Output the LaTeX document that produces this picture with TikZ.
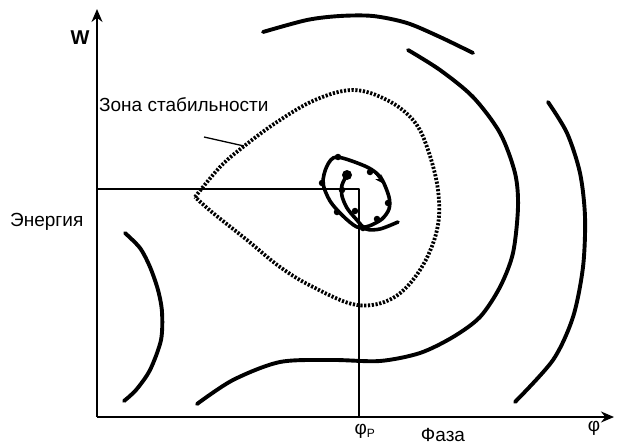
\documentclass[tikz,border=0pt]{standalone}
\usepackage{fontspec}
\setmainfont{Liberation Sans}
\usetikzlibrary{arrows.meta}

\begin{document}
\begin{tikzpicture}[x=1pt, y=-1pt, line join=round,
  axis/.style = {line width=1.9pt, -{Stealth[length=13pt,width=11pt]}},
  guide/.style = {line width=1.3pt},
  orbit/.style = {line width=3.9pt, line cap=round},
  zone/.style = {line width=3.8pt, dash pattern=on 2.2pt off 1.6pt},
  lbl/.style = {inner sep=0pt, font=\fontsize{19}{21}\selectfont},
  bead/.style = {fill, circle, inner sep=0pt, minimum size=6.5pt}]
\useasboundingbox (0,0) rectangle (617,444);
% axes
\coordinate (O) at (97,417);
\coordinate (Wtop) at (97,9);
\coordinate (Ptop) at (614,417);
\draw[axis] (O) -- (Wtop);
\draw[axis] (O) -- (Ptop);
% working point
\coordinate (E) at (97,189);
\coordinate (R) at (359,189);
\coordinate (Rb) at (359,417);
\draw[guide] (E) -- (R) -- (Rb);
% labels
\node[lbl, font=\fontsize{20}{22}\selectfont\bfseries] (w) at (80,38) {W};
\node[lbl, anchor=west] (zona) at (99,105) {Зона стабильности};
\node[lbl, anchor=west] (energy) at (10,222) {Энергия};
\node[lbl, anchor=north] (phir) at (365,424) {φ\textsubscript{\fontsize{12}{13}\selectfont P}};
\node[lbl, anchor=north] (faza) at (443,428) {Фаза};
\node[lbl, anchor=north] (phi) at (594,421) {φ};
\coordinate (lead) at (244,146);
\draw[guide] (204,137) -- (lead);
% stability zone
\draw[zone] plot[smooth, tension=0.6] coordinates {(195,197) (220,167) (243,147) (277,122)
  (315,100) (353,90) (387,100) (413,120) (427,147) (438,190) (437,230) (420,270)
  (393,298) (357,305) (313,287) (280,267) (247,240) (213,213) (195,197)};
% phase trajectories
\draw[orbit] plot[smooth] coordinates {(263,32) (307,20) (340,16) (373,16) (407,23) (440,37) (473,53)};
\draw[orbit] plot[smooth] coordinates {(408,50) (440,70) (473,97) (500,133) (515,173) (518,207)
  (513,253) (500,287) (480,317) (453,337) (420,353) (380,361) (333,360) (280,362) (233,380) (197,404)};
\draw[orbit] plot[smooth] coordinates {(548,102) (567,133) (580,173) (585,217) (583,267) (573,317) (553,360) (515,402)};
\draw[orbit] plot[smooth] coordinates {(125,233) (140,248) (150,267) (158,290) (162,312) (161,340) (150,370) (136,390) (124,401)};
% spiral around working point
\draw[orbit, line width=3.6pt] plot[smooth cycle] coordinates {(337,157) (367,167) (381,178) (389,197) (389,209)
  (382,219) (369,226) (357,227) (343,216) (330,201) (323,183) (327,166)};
\draw[orbit, line width=3.6pt] plot[smooth] coordinates {(347,175) (342,185) (342,196) (347,208) (356,219) (366,229) (380,229) (398,222)};
\draw[orbit, line width=2pt, -{Stealth[length=9pt,width=8pt]}] (374,171) -- (384,184);
\foreach \p in {(338,157),(322,183),(337,212),(355,211),(363,228),(377,219),(388,203),(370,172),(342,190)}
  \node[bead] at \p {};
\node[bead, minimum size=10pt] (start) at (347,175) {};
\end{tikzpicture}
\end{document}
